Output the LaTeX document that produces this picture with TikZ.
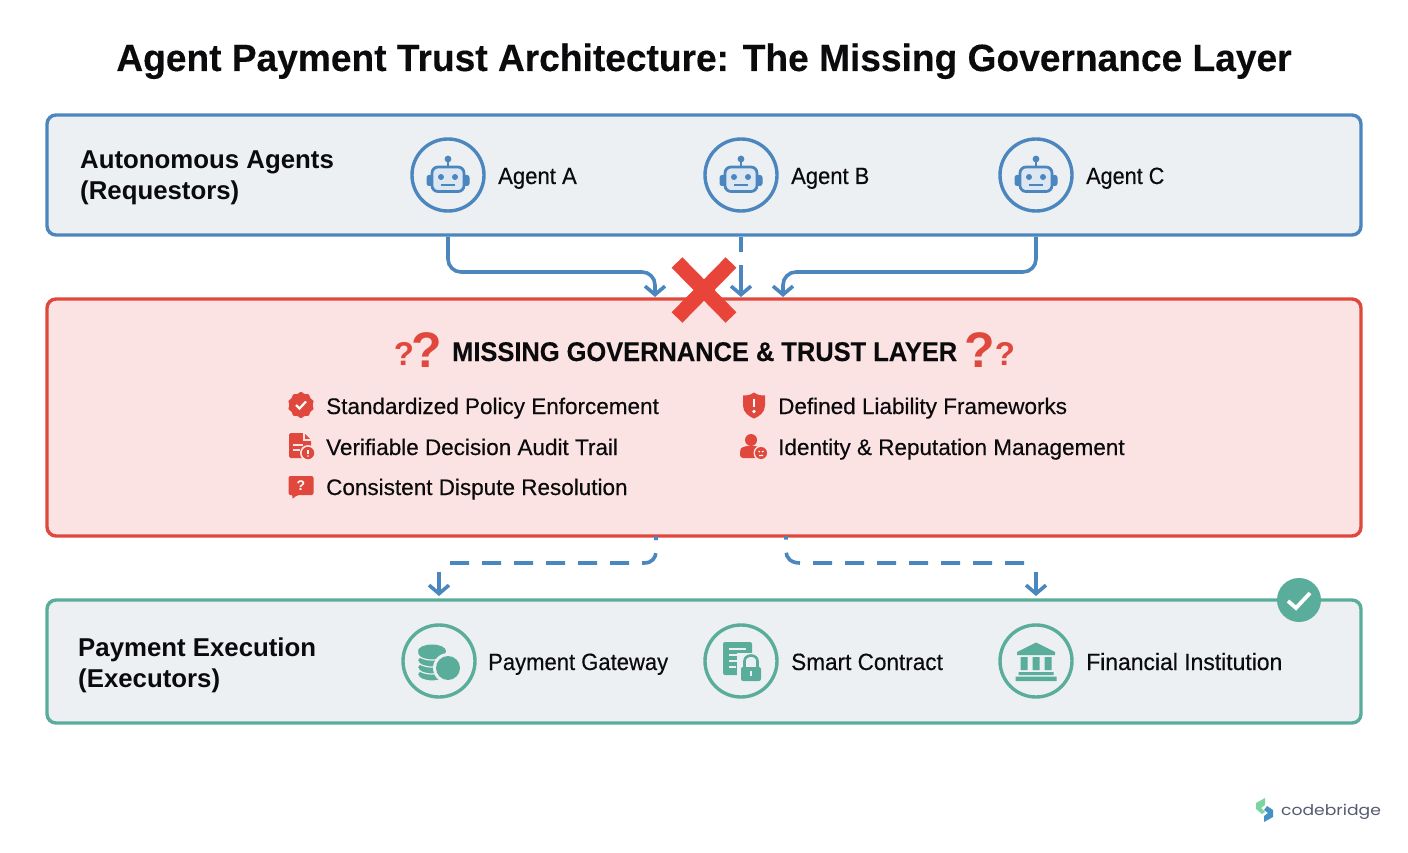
\documentclass[tikz,border=0pt]{standalone}
\usepackage{graphicx}
\usepackage{fontspec}
\setmainfont{Liberation Sans}
\newfontfamily\medfont[FakeBold=0.4]{Liberation Sans}
\newfontfamily\heavyfont[BoldFeatures={FakeBold=0.25}]{Liberation Sans}
\newfontfamily\logofont{Poppins}
\newcommand{\sx}[2]{\scalebox{#1}[1]{#2}}
\usetikzlibrary{arrows.meta,shapes.geometric,shapes.misc,calc}
\definecolor{cblue}{HTML}{4C86BF}
\definecolor{cred}{HTML}{E0483E}
\definecolor{ccross}{HTML}{E9443A}
\definecolor{cteal}{HTML}{5BAD9B}
\definecolor{cgrey}{HTML}{EDF0F2}
\definecolor{cpink}{HTML}{FBE3E3}
\definecolor{clight}{HTML}{DCE7F2}
\definecolor{cink}{HTML}{0B0B0D}
\definecolor{clogo}{HTML}{555B6E}
\tikzset{
  x=1pt,y=-1pt,
  panel/.style={draw=#1,line width=3.4pt,rounded corners=9pt,minimum width=1314pt,inner sep=0pt},
  ring/.style={circle,draw=#1,line width=3.4pt,fill=cgrey,minimum size=72pt,inner sep=0pt},
  titletext/.style={anchor=base,font=\heavyfont\bfseries\fontsize{38}{38}\selectfont,text=cink,inner sep=0pt},
  headtext/.style={anchor=base west,font=\bfseries\fontsize{25.8}{26}\selectfont,text=cink,inner sep=0pt},
  missingtext/.style={anchor=base west,font=\heavyfont\bfseries\fontsize{27}{27}\selectfont,text=cink,inner sep=0pt},
  itemtext/.style={anchor=base west,font=\medfont\fontsize{23.5}{24}\selectfont,text=cink,inner sep=0pt},
  listtext/.style={anchor=base west,font=\medfont\fontsize{22.5}{24}\selectfont,text=cink,inner sep=0pt},
  qbig/.style={anchor=center,font=\bfseries\fontsize{50}{50}\selectfont,text=cred,inner sep=0pt},
  qsmall/.style={anchor=center,font=\bfseries\fontsize{33}{33}\selectfont,text=cred,inner sep=0pt},
  flow/.style={draw=cblue,line width=3.6pt,rounded corners=13pt},
  flowtip/.style={-{Straight Barb[length=8.5pt,width=20pt,line width=3.6pt]}},
  dashflow/.style={draw=cblue,line width=3.6pt,dash pattern=on 19pt off 13pt},
  robot/.pic={
    \fill[cblue,rounded corners=2.5pt] (-21.5,0) rectangle (21.5,11);
    \draw[cblue,line width=2.8pt,fill=clight,rounded corners=6pt] (-16,-8) rectangle (16,16.5);
    \draw[cblue,line width=2.6pt] (0,-8) -- (0,-15);
    \fill[cblue] (0,-16) circle (3.4);
    \fill[cblue] (-7,2) circle (3) (7,2) circle (3);
    \draw[cblue,line width=2.4pt] (-7,10) -- (7,10);
  },
  coins/.pic={
    \foreach \yy in {11,4,-3,-10}{
      \fill[cteal] (-7,\yy+3) ellipse (14 and 6);
      \draw[cgrey,line width=1.2pt] (-21,\yy+3) arc[start angle=180,end angle=360,x radius=14,y radius=-6];
    }
    \fill[cteal] (-7,-10) ellipse (14 and 6.5);
    \fill[cgrey] (9,7) circle (15);
    \fill[cteal] (9,7) circle (12);
  },
  doclock/.pic={
    \fill[cteal,rounded corners=2pt] (-18,-19) rectangle (11,14);
    \draw[cgrey,line width=2pt] (-12,-12) -- (5,-12) (-12,-6) -- (1,-6) (-12,0) -- (-2,0) (-12,6) -- (-5,6);
    \fill[cgrey] (-4,-8) rectangle (24,23);
    \draw[cteal,line width=2.6pt] (3.5,7) -- (3.5,0) arc[start angle=180,end angle=360,x radius=6.5,y radius=5.5] -- (16.5,7);
    \fill[cteal,rounded corners=2pt] (0,6) rectangle (20,20);
    \draw[cgrey,line width=2pt] (10,10) -- (10,15);
  },
  bank/.pic={
    \fill[cteal] (-19,-9) -- (0,-18.5) -- (19,-9) -- (19,-6) -- (-19,-6) -- cycle;
    \fill[cteal] (-15.5,-4) rectangle (-8.5,9) (-3.5,-4) rectangle (3.5,9) (8.5,-4) rectangle (15.5,9);
    \fill[cteal] (-17.5,11) rectangle (17.5,14) (-20.5,15.5) rectangle (20.5,20);
  },
  seal/.pic={
    \node[star,star points=10,star point ratio=1.18,fill=cred,minimum size=27pt,inner sep=0pt,rounded corners=1pt] (seal) at (0,0) {};
    \draw[white,line width=2.2pt] (-5,0) -- (-1.5,3.5) -- (5,-3.5);
  },
  docwarn/.pic={
    \fill[cred,rounded corners=1.5pt] (-12,-13) -- (3,-13) -- (10,-6) -- (10,12) -- (-12,12) -- cycle;
    \draw[cpink,line width=1.4pt] (3,-13) -- (3,-6) -- (10,-6);
    \draw[cpink,line width=1.6pt] (-8,-1) -- (2,-1) (-8,4) -- (-1,4);
    \fill[cpink] (7,7) circle (8);
    \fill[cred] (7,7) circle (6.2);
    \draw[white,line width=1.5pt] (7,4) -- (7,8);
    \fill[white] (7,10) circle (.9);
  },
  chatq/.pic={
    \fill[cred,rounded corners=2pt] (-12.5,-11) -- (12.5,-11) -- (12.5,8) -- (-4,8) -- (-9,12.5) -- (-8,8) -- (-12.5,8) -- cycle;
    \node[font=\bfseries\fontsize{14}{14}\selectfont,text=white,inner sep=0pt] (chatmark) at (0,-1.5) {?};
  },
  shieldmark/.pic={
    \fill[cred] (0,-13) .. controls (4,-10) and (8,-10) .. (11,-10) -- (11,0) .. controls (11,7) and (5,11) .. (0,13) .. controls (-5,11) and (-11,7) .. (-11,0) -- (-11,-10) .. controls (-8,-10) and (-4,-10) .. (0,-13) -- cycle;
    \draw[white,line width=2.6pt] (0,-7) -- (0,1);
    \fill[white] (0,6) circle (1.8);
  },
  personmark/.pic={
    \fill[cred] (-2,-7) circle (6);
    \fill[cred,rounded corners=3pt] (-13,11) -- (-13,5) .. controls (-12,0) and (-6,-1) .. (-2,-1) .. controls (2,-1) and (8,0) .. (9,5) -- (9,11) -- cycle;
    \fill[cpink] (8,6) circle (7.5);
    \fill[cred] (8,6) circle (6);
    \draw[white,line width=1.1pt] (5.5,4) -- (7,5) (10.5,4) -- (9,5) (6,8.5) -- (10,8.5);
  },
}
\begin{document}
\begin{tikzpicture}
\useasboundingbox (0,0) rectangle (1408,853);
\fill[white] (0,0) rectangle (1408,853);

\node[titletext] (title) at (704,71) {\sx{0.977}{Agent Payment Trust Architecture: The Missing Governance Layer}};

% panels
\node[panel=cblue,fill=cgrey,minimum height=120pt] (agents) at (704,175) {};
\node[panel=cred,fill=cpink,minimum height=237pt] (gov) at (704,417.5) {};
\node[panel=cteal,fill=cgrey,minimum height=123pt] (exec) at (704,661.5) {};

% agents row
\node[headtext] (agentsA) at (80,169) {Autonomous Agents};
\node[headtext] (agentsB) at (80,200) {(Requestors)};
\node[ring=cblue] (agentA) at (448,175) {};
\node[ring=cblue] (agentB) at (741,175) {};
\node[ring=cblue] (agentC) at (1036,175) {};
\pic at (agentA) {robot};
\pic at (agentB) {robot};
\pic at (agentC) {robot};
\node[itemtext] (labA) at (498,184) {\sx{0.94}{Agent A}};
\node[itemtext] (labB) at (791,184) {\sx{0.935}{Agent B}};
\node[itemtext] (labC) at (1086,184) {\sx{0.92}{Agent C}};

% connectors into governance
\coordinate (inA) at (655,297);
\coordinate (inB) at (741,297);
\coordinate (inC) at (783,297);
\draw[flow,flowtip] (agentA |- agents.south) -- (448,272) -- (655,272) -- (inA);
\draw[flow,flowtip] (agentC |- agents.south) -- (1036,272) -- (783,272) -- (inC);
\draw[cblue,line width=3.6pt] (agentB |- agents.south) -- (741,252);
\coordinate (midB) at (741,265);
\draw[cblue,line width=3.6pt,flowtip] (midB) -- (inB);

% red cross
\node[inner sep=0pt,minimum size=0pt] (cross) at (704,290) {};
\draw[ccross,line width=15pt] ($(cross)+(-27,-27.5)$) -- ($(cross)+(27,27.5)$);
\draw[ccross,line width=15pt] ($(cross)+(27,-27.5)$) -- ($(cross)+(-27,27.5)$);

% governance heading
\node[qsmall] (q1) at (404,354) {?};
\node[qbig] (q2) at (427,350) {?};
\node[missingtext] (gh) at (452,361) {\sx{0.942}{MISSING GOVERNANCE \& TRUST LAYER}};
\node[qbig] (q3) at (980,350) {?};
\node[qsmall] (q4) at (1005,354) {?};

% list
\pic at (301,405) {seal};
\pic at (301,446) {docwarn};
\pic at (301,487) {chatq};
\pic at (754,405.5) {shieldmark};
\pic at (753,447) {personmark};
\node[listtext] (it1) at (326,414) {Standardized Policy Enforcement};
\node[listtext] (it2) at (326,455) {Verifiable Decision Audit Trail};
\node[listtext] (it3) at (326,495) {Consistent Dispute Resolution};
\node[listtext] (it4) at (778,414) {Defined Liability Frameworks};
\node[listtext] (it5) at (778,455) {Identity \& Reputation Management};

% dashed connectors
\coordinate (dl) at (450,563);
\coordinate (dr) at (1024,563);
\coordinate (ol) at (656,536);
\coordinate (or) at (786,536);
\draw[dashflow] (dl) -- (644,563) .. controls (652,563) and (656,558) .. (656,551) -- (ol);
\draw[dashflow] (dr) -- (800,563) .. controls (791,563) and (786,558) .. (786,551) -- (or);
\coordinate (al) at (439,572);
\coordinate (ar) at (1036,572);
\coordinate (tl) at (439,596);
\coordinate (tr) at (1036,596);
\draw[cblue,line width=3.6pt,flowtip] (al) -- (tl);
\draw[cblue,line width=3.6pt,flowtip] (ar) -- (tr);

% exec row
\node[headtext] (execA) at (78,656) {Payment Execution};
\node[headtext] (execB) at (78,687) {(Executors)};
\node[ring=cteal] (gate) at (439,661) {};
\node[ring=cteal] (smart) at (741,661) {};
\node[ring=cteal] (fin) at (1036,661) {};
\pic at (gate) {coins};
\pic at (smart) {doclock};
\pic at (fin) {bank};
\node[itemtext] (labG) at (488,670) {\sx{0.9375}{Payment Gateway}};
\node[itemtext] (labS) at (791,670) {\sx{0.96}{Smart Contract}};
\node[itemtext] (labF) at (1086,670) {\sx{0.975}{Financial Institution}};

% check badge
\node[circle,fill=cteal,minimum size=44pt,inner sep=0pt] (badge) at (1299,600) {};
\draw[white,line width=3.8pt] ($(badge)+(-11,1)$) -- ($(badge)+(-3,8)$) -- ($(badge)+(11,-7)$);

% logo
\fill[cteal!75!green!70!white] (1265,798) -- (1265,805) -- (1261,808) -- (1265,812) -- (1262,814) -- (1256,809) -- (1256,803) -- cycle;
\fill[cblue!90!cyan] (1267,806) -- (1273,810) -- (1273,817) -- (1264,822) -- (1264,816) -- (1268,813) -- (1264,810) -- cycle;
\node[anchor=base west,inner sep=0pt,text=clogo,font=\logofont\fontsize{16.5}{17}\selectfont] (logo) at (1281,815) {\scalebox{1.04}[0.9]{codebridge}};
\end{tikzpicture}
\end{document}
